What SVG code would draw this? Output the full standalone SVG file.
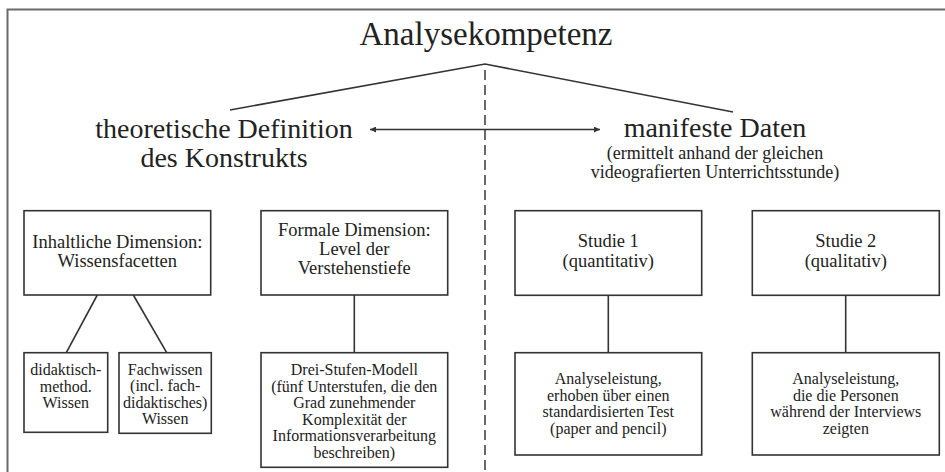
<svg xmlns="http://www.w3.org/2000/svg" width="945" height="472" viewBox="0 0 945 472">
<defs>
<style>
text{font-family:"Liberation Serif","Times New Roman",serif;fill:#222;text-anchor:middle}
.t{font-size:33px}
.h{font-size:28px}
.s{font-size:18px}
.b{font-size:18.5px}
.m{font-size:16px}
rect{fill:#fff;stroke:#333;stroke-width:1.6}
.ln{stroke:#333;stroke-width:1.6;fill:none}
</style>
<marker id="ah" viewBox="0 0 10 10" refX="10" refY="5" markerWidth="9" markerHeight="6" markerUnits="userSpaceOnUse" orient="auto-start-reverse">
<path d="M0,0 L10,5 L0,10 Z" fill="#333"/>
</marker>
</defs>
<rect x="0" y="0" width="945" height="472" style="fill:#fff;stroke:none"/>
<path d="M7.5,472 V9.5 H945" fill="none" stroke="#6a6a6a" stroke-width="2"/>
<g id="connectors">
<polyline class="ln" points="230,110 485,64 733,112"/>
<line x1="485" y1="70" x2="485" y2="472" stroke="#444" stroke-width="1.6" stroke-dasharray="10,5"/>
<line class="ln" x1="370" y1="129.5" x2="600" y2="129.5" marker-start="url(#ah)" marker-end="url(#ah)"/>
<line class="ln" x1="97.3" y1="295" x2="66.3" y2="352.7"/>
<line class="ln" x1="133.3" y1="295" x2="166.7" y2="352.7"/>
<line class="ln" x1="354.3" y1="295" x2="354.3" y2="352.7"/>
<line class="ln" x1="608.3" y1="295" x2="608.3" y2="352.7"/>
<line class="ln" x1="845.7" y1="295" x2="845.7" y2="352.7"/>
</g>
<g id="title"><text class="t" x="486" y="45">Analysekompetenz</text></g>
<g id="theorie"><text class="h" x="224" y="137.5">theoretische Definition</text><text class="h" x="224" y="166.5">des Konstrukts</text></g>
<g id="daten"><text class="h" x="715" y="136.5">manifeste Daten</text><text class="s" x="715" y="159">(ermittelt anhand der gleichen</text><text class="s" x="715" y="178">videografierten Unterrichtsstunde)</text></g>
<g id="inhalt"><rect x="24" y="210.7" width="186.7" height="84.3"/><text class="b" x="117.3" y="248">Inhaltliche Dimension:</text><text class="b" x="117.3" y="267">Wissensfacetten</text></g>
<g id="formal"><rect x="261" y="210.7" width="186.7" height="84.3"/><text class="b" x="354.3" y="236">Formale Dimension:</text><text class="b" x="354.3" y="255">Level der</text><text class="b" x="354.3" y="274">Verstehenstiefe</text></g>
<g id="studie1"><rect x="515" y="210.7" width="186.7" height="84.6"/><text class="b" x="608.3" y="247.3">Studie 1</text><text class="b" x="608.3" y="266.7">(quantitativ)</text></g>
<g id="studie2"><rect x="752.3" y="210.7" width="187" height="84.6"/><text class="b" x="845.8" y="247.3">Studie 2</text><text class="b" x="845.8" y="266.7">(qualitativ)</text></g>
<g id="didaktisch"><rect x="24" y="352.7" width="83.7" height="79.6"/><text class="m" x="65.8" y="375">didaktisch-</text><text class="m" x="65.8" y="391.6">method.</text><text class="m" x="65.8" y="408.2">Wissen</text></g>
<g id="fachwissen"><rect x="119" y="352.7" width="92.3" height="80.6"/><text class="m" x="165.2" y="374.5">Fachwissen</text><text class="m" x="165.2" y="391.1">(incl. fach-</text><text class="m" x="165.2" y="407.7">didaktisches)</text><text class="m" x="165.2" y="424.3">Wissen</text></g>
<g id="dreistufen"><rect x="261" y="352.7" width="186.7" height="114.6"/><text class="m" x="354.3" y="375">Drei-Stufen-Modell</text><text class="m" x="354.3" y="391.6">(fünf Unterstufen, die den</text><text class="m" x="354.3" y="408.2">Grad zunehmender</text><text class="m" x="354.3" y="424.8">Komplexität der</text><text class="m" x="354.3" y="441.4">Informationsverarbeitung</text><text class="m" x="354.3" y="458">beschreiben)</text></g>
<g id="leistung1"><rect x="515" y="352.7" width="186.7" height="102.3"/><text class="m" x="608.3" y="384">Analyseleistung,</text><text class="m" x="608.3" y="400.6">erhoben über einen</text><text class="m" x="608.3" y="417.2">standardisierten Test</text><text class="m" x="608.3" y="433.8">(paper and pencil)</text></g>
<g id="leistung2"><rect x="752.3" y="352.7" width="187" height="102.3"/><text class="m" x="845.8" y="384">Analyseleistung,</text><text class="m" x="845.8" y="400.6">die die Personen</text><text class="m" x="845.8" y="417.2">während der Interviews</text><text class="m" x="845.8" y="433.8">zeigten</text></g>
</svg>
